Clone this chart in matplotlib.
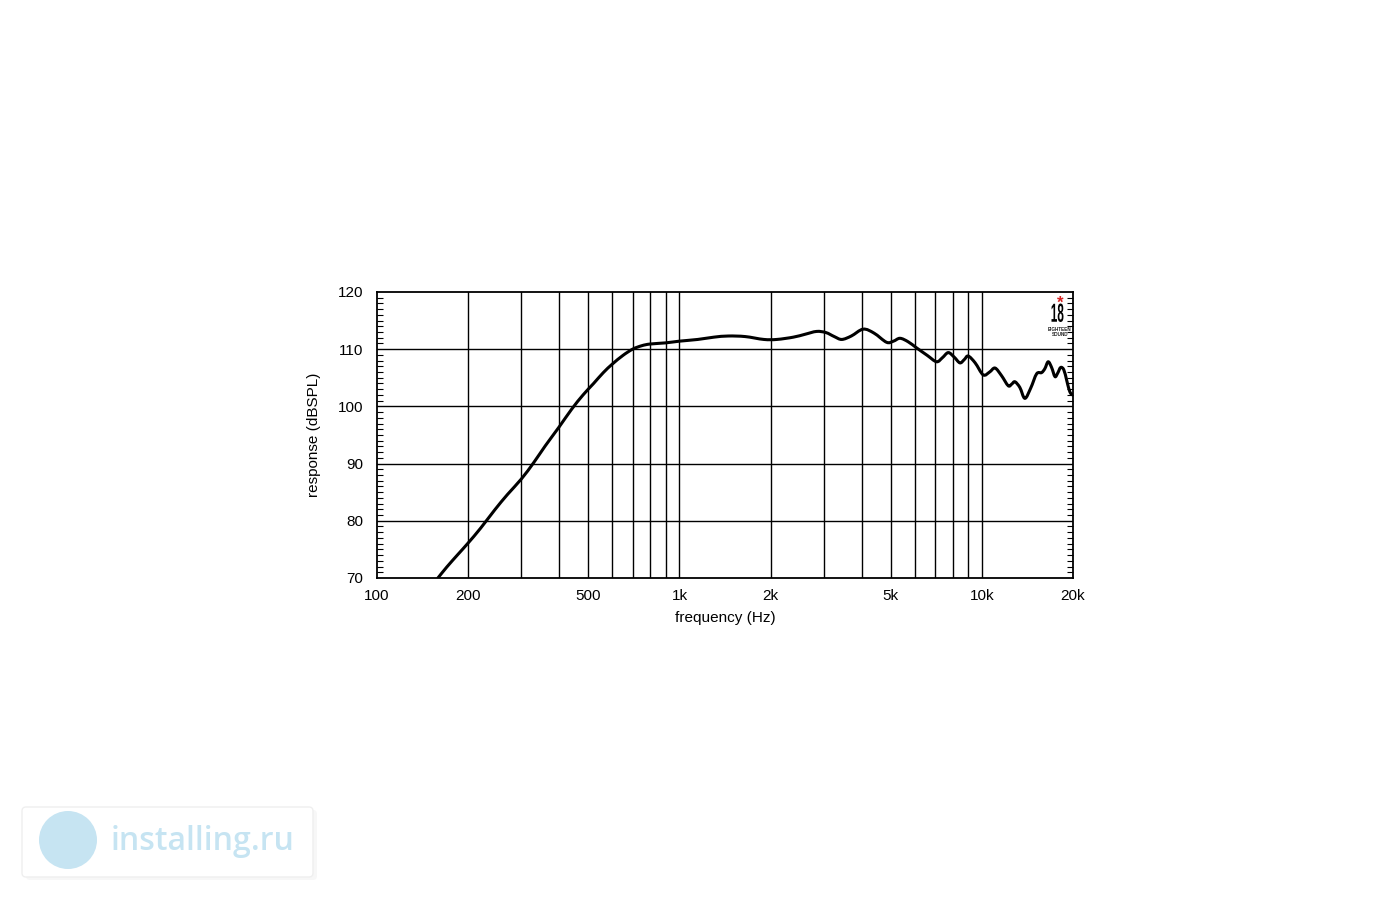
import numpy as np
import matplotlib.pyplot as plt
from matplotlib.patches import FancyBboxPatch, Circle, PathPatch
from matplotlib.path import Path
from matplotlib.textpath import TextPath
from matplotlib.font_manager import FontProperties
from matplotlib.transforms import IdentityTransform, Affine2D
from matplotlib.ticker import FixedLocator, MultipleLocator, NullLocator

# frequency response (Hz, dB SPL)
freq = [159, 170, 185, 200, 220, 245, 270, 300, 330, 360, 400, 440, 480, 520,
        560, 600, 650, 700, 750, 800, 900, 1000, 1150, 1300, 1450, 1650,
        1900, 2100, 2380, 2600, 2840, 3050, 3250, 3440, 3700, 4050, 4400,
        4840, 5100, 5360, 5700, 6090, 6600, 7080, 7400, 7740, 8100, 8460,
        8750, 9010, 9500, 10100, 10600, 11050, 11600, 12220, 12550, 12860,
        13350, 13870, 14500, 15170, 15750, 16150, 16560, 17000, 17440,
        17800, 18210, 18650, 19060, 19400, 19700, 20000]
spl = [70.0, 71.9, 74.1, 76.1, 78.7, 81.9, 84.6, 87.3, 90.2, 93.1, 96.4,
       99.5, 102.0, 104.0, 105.9, 107.4, 108.9, 110.0, 110.6, 110.9, 111.1,
       111.4, 111.7, 112.1, 112.3, 112.2, 111.7, 111.7, 112.1, 112.6,
       113.1, 112.9, 112.2, 111.7, 112.3, 113.5, 112.8, 111.2, 111.4,
       111.9, 111.3, 110.2, 108.9, 107.8, 108.5, 109.4, 108.6, 107.6,
       108.2, 108.8, 107.6, 105.5, 106.0, 106.7, 105.4, 103.6, 103.9,
       104.3, 103.3, 101.4, 103.2, 105.7, 105.9, 106.6, 107.8, 106.8,
       105.2, 105.8, 106.8, 106.4, 104.6, 103.0, 102.2, 102.0]

grid_freqs = [200, 300, 400, 500, 600, 700, 800, 900, 1000,
              2000, 3000, 4000, 5000, 6000, 7000, 8000, 9000, 10000]
label_freqs = [100, 200, 500, 1000, 2000, 5000, 10000, 20000]
label_text = ['100', '200', '500', '1k', '2k', '5k', '10k', '20k']
db_ticks = [70, 80, 90, 100, 110, 120]

plt.rcParams['font.family'] = ['Liberation Sans', 'DejaVu Sans']

fig = plt.figure(figsize=(14, 9), dpi=100)
ax = fig.add_axes([0.2693, 0.3578, 0.4971, 0.3178])

for f in grid_freqs:
    ax.axvline(f, color='black', lw=1.0, zorder=1)
for d in db_ticks[1:-1]:
    ax.axhline(d, color='black', lw=1.0, zorder=1)


def smooth_path(xs, ys):
    # Catmull-Rom through the read points (log-x space), drawn as cubic beziers
    lx = np.log10(xs)
    y = np.asarray(ys, dtype=float)
    n = len(lx)
    verts = [(xs[0], y[0])]
    codes = [Path.MOVETO]
    for i in range(n - 1):
        a = max(i - 1, 0)
        b = min(i + 2, n - 1)
        c1 = (lx[i] + (lx[i + 1] - lx[a]) / 6, y[i] + (y[i + 1] - y[a]) / 6)
        c2 = (lx[i + 1] - (lx[b] - lx[i]) / 6, y[i + 1] - (y[b] - y[i]) / 6)
        verts += [(10 ** c1[0], c1[1]), (10 ** c2[0], c2[1]), (xs[i + 1], y[i + 1])]
        codes += [Path.CURVE4] * 3
    return Path(verts, codes)


ax.add_patch(PathPatch(smooth_path(freq, spl), facecolor='none', edgecolor='black',
                       lw=2.2, capstyle='round', joinstyle='round', zorder=3,
                       transform=ax.transData, clip_on=True))

ax.set_xscale('log')
ax.set_xlim(100, 20000)
ax.set_ylim(70, 120)
ax.xaxis.set_major_locator(FixedLocator(label_freqs))
ax.xaxis.set_minor_locator(NullLocator())
ax.set_xticklabels(label_text)
ax.set_yticks(db_ticks)
ax.yaxis.set_minor_locator(MultipleLocator(1))
ax.tick_params(axis='x', length=0, pad=8, labelsize=11)
ax.tick_params(axis='y', which='major', length=0, pad=10, labelsize=11)
ax.tick_params(axis='y', which='minor', direction='in', length=4, width=0.8,
               left=True, right=True)
for s in ax.spines.values():
    s.set_linewidth(1.3)

ax.set_xlabel('frequency (Hz)', fontsize=11, labelpad=6)
ax.set_ylabel('response (dBSPL)', fontsize=11, labelpad=12)

# brand mark in the corner (figure pixels, y from the bottom)
ax.text(0.981, 0.962, '*', transform=ax.transAxes, color='#d62020',
        fontsize=12, ha='center', va='center', fontweight='bold')
logo = TextPath((0, 0), '18', size=24, prop=FontProperties(family='Liberation Sans', weight='bold'))
ext = logo.get_extents()
sx, sy = 12 / ext.width, 18.5 / ext.height
logo_tr = Affine2D().translate(-ext.x0, -ext.y0).scale(sx, sy).translate(1051.5, 900 - 322)
fig.patches.append(PathPatch(logo_tr.transform_path(logo), facecolor='black',
                             edgecolor='none', transform=IdentityTransform()))
ax.text(0.981, 0.86, 'EIGHTEEN\nSOUND', transform=ax.transAxes, color='#222222',
        fontsize=3.3, ha='center', va='center', fontweight='bold', linespacing=1.0)

# watermark
fig.patches.append(FancyBboxPatch((26, 900 - 880), 291, 70,
                                  boxstyle='round,pad=0,rounding_size=4',
                                  transform=IdentityTransform(), facecolor='#f7f7f7',
                                  edgecolor='none'))
fig.patches.append(FancyBboxPatch((22, 900 - 877), 291, 70,
                                  boxstyle='round,pad=0,rounding_size=4',
                                  transform=IdentityTransform(), facecolor='white',
                                  edgecolor='#efefef', lw=1.0))
fig.patches.append(Circle((68, 900 - 840), 29, transform=IdentityTransform(),
                          facecolor='#c6e4f2', edgecolor='none'))
fig.text(111 / 1400, 1 - 841 / 900, 'installing.ru', color='#c6e4f2',
         fontsize=23, ha='left', va='center', family='Open Sans', fontweight='semibold')

fig.savefig('out.png', dpi=100, facecolor='white')
